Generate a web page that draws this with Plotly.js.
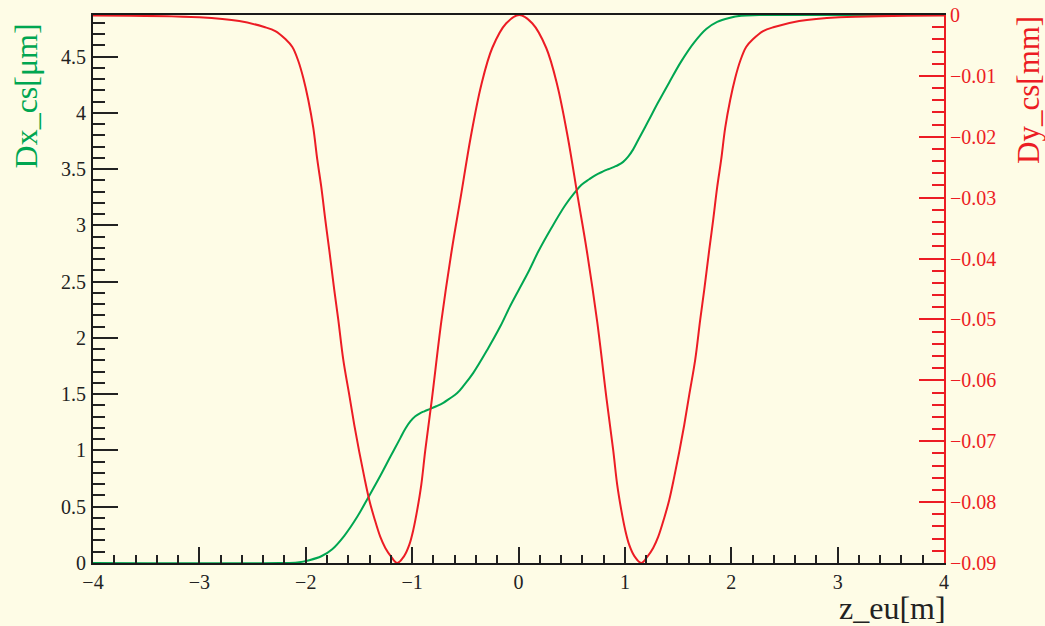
<!DOCTYPE html>
<html>
<head>
<meta charset="utf-8">
<script src="https://cdn.plot.ly/plotly-3.0.1.min.js"></script>
<style>html,body{margin:0;padding:0;background:#fefce6;}#plot{width:1045px;height:626px;}</style>
</head>
<body>
<div id="plot"></div>
<script>
// Dx_cs (green, left axis, µm)
var dxZ = [-4.0, -2.249, -2.079, -1.967, -1.854, -1.751, -1.638, -1.516, -1.403, -1.299, -1.205, -1.111, -1.064, -1.017, -0.970, -0.923, -0.886, -0.829, -0.773, -0.707, -0.651, -0.576, -0.510, -0.425, -0.294, -0.172, -0.087, 0.007,
           0.101, 0.186, 0.308, 0.439, 0.524, 0.590, 0.665, 0.721, 0.787, 0.843, 0.900, 0.937, 0.984, 1.031, 1.078, 1.125, 1.219, 1.313, 1.417, 1.530, 1.652, 1.765, 1.868, 1.981, 2.093, 2.263, 4.0];
var dxVal = [0, 0, 0.005, 0.025, 0.060, 0.123, 0.242, 0.411, 0.598, 0.775, 0.944, 1.110, 1.193, 1.258, 1.304, 1.332, 1.348, 1.370, 1.393, 1.424, 1.459, 1.510, 1.583, 1.690, 1.894, 2.101, 2.267, 2.435,
             2.602, 2.768, 2.975, 3.179, 3.286, 3.359, 3.410, 3.445, 3.476, 3.499, 3.521, 3.537, 3.565, 3.611, 3.676, 3.759, 3.925, 4.094, 4.271, 4.458, 4.627, 4.746, 4.809, 4.844, 4.864, 4.869, 4.869];

// Dy_cs (red, right axis, mm)
var dyZ = [-4.0, -3.001, -2.625, -2.390, -2.286, -2.192, -2.126, -2.070, -2.023, -1.976, -1.929, -1.891, -1.854, -1.816, -1.779, -1.732, -1.694, -1.647, -1.591, -1.544, -1.497, -1.450, -1.403, -1.356, -1.299, -1.252, -1.196, -1.140,
           -1.074, -1.027, -0.989, -0.952, -0.914, -0.876, -0.815, -0.726, -0.627, -0.543, -0.449, -0.350, -0.247, -0.115, 0.007,
           0.129, 0.261, 0.364, 0.463, 0.557, 0.641, 0.740, 0.829, 0.890, 0.928, 0.966, 1.003, 1.041, 1.088, 1.154,
           1.210, 1.266, 1.313, 1.370, 1.417, 1.464, 1.511, 1.558, 1.605, 1.661, 1.708, 1.746, 1.793, 1.830, 1.868, 1.905, 1.943, 1.990, 2.037, 2.084, 2.140, 2.206, 2.300, 2.404, 2.639, 3.015, 4.0];
var dyVal = [-0.00008, -0.00038, -0.00099, -0.00197, -0.00263, -0.00394, -0.00525, -0.00755, -0.01034, -0.01396, -0.01855, -0.02381, -0.02824, -0.03366, -0.03859, -0.04516, -0.05008, -0.05665, -0.06240, -0.06733, -0.07176, -0.07586, -0.07964, -0.08260, -0.08572, -0.08753, -0.08900, -0.09000,
             -0.08883, -0.08703, -0.08456, -0.08128, -0.07717, -0.07143, -0.06322, -0.05041, -0.03859, -0.02988, -0.02003, -0.01149, -0.00542, -0.00136, 0.0,
             -0.00136, -0.00542, -0.01149, -0.02003, -0.02988, -0.03859, -0.05041, -0.06322, -0.07143, -0.07717, -0.08128, -0.08456, -0.08703, -0.08883, -0.09000,
             -0.08900, -0.08753, -0.08572, -0.08260, -0.07964, -0.07586, -0.07176, -0.06733, -0.06240, -0.05665, -0.05008, -0.04516, -0.03859, -0.03366, -0.02824, -0.02381, -0.01855, -0.01396, -0.01034, -0.00755, -0.00525, -0.00394, -0.00263, -0.00197, -0.00099, -0.00038, -0.00008];

var GREEN = '#00a651';
var RED = '#ec1c24';
var BG = '#fefce6';
var FONT = 'Liberation Serif, Times New Roman, serif';

var traces = [
  {x: dxZ, y: dxVal, type: 'scatter', mode: 'lines', yaxis: 'y',
   line: {color: GREEN, width: 2, shape: 'spline', smoothing: 1}, hoverinfo: 'skip'},
  {x: dyZ, y: dyVal, type: 'scatter', mode: 'lines', yaxis: 'y2',
   line: {color: RED, width: 2, shape: 'spline', smoothing: 1}, hoverinfo: 'skip'}
];

var layout = {
  width: 1045, height: 626,
  paper_bgcolor: BG, plot_bgcolor: BG,
  showlegend: false,
  margin: {l: 93, r: 101, t: 15, b: 63, pad: 0},
  font: {family: FONT, size: 20, color: '#222'},
  xaxis: {
    range: [-4, 4], dtick: 1, tick0: 0,
    showgrid: false, zeroline: false,
    showline: true, linecolor: '#1a1a1a', linewidth: 2, mirror: true,
    ticks: 'inside', ticklen: 16, tickwidth: 2, tickcolor: '#222',
    minor: {dtick: 0.2, ticks: 'inside', ticklen: 8, tickwidth: 2, tickcolor: '#222', showgrid: false},
    tickfont: {family: FONT, size: 20, color: '#222'},
    ticklabelstandoff: 0
  },
  yaxis: {
    range: [0, 4.87], dtick: 0.5, tick0: 0,
    showgrid: false, zeroline: false,
    showline: true, linecolor: '#1a1a1a', linewidth: 2, mirror: false,
    ticks: 'inside', ticklen: 25, tickwidth: 2, tickcolor: '#222',
    minor: {dtick: 0.1, ticks: 'inside', ticklen: 12, tickwidth: 2, tickcolor: '#222', showgrid: false},
    tickfont: {family: FONT, size: 20, color: '#222'},
    ticklabelstandoff: 1
  },
  yaxis2: {
    overlaying: 'y', side: 'right', anchor: 'x',
    range: [-0.09, 0], dtick: 0.01, tick0: 0,
    showgrid: false, zeroline: false,
    showline: true, linecolor: RED, linewidth: 2,
    ticks: 'inside', ticklen: 25, tickwidth: 2, tickcolor: RED,
    minor: {dtick: 0.002, ticks: 'inside', ticklen: 12, tickwidth: 2, tickcolor: RED, showgrid: false},
    tickfont: {family: FONT, size: 20, color: RED},
    ticklabelstandoff: 0
  },
  annotations: [
    {text: 'Dx_cs[μm]', xref: 'paper', yref: 'paper', x: -0.0783, y: 0.852,
     xanchor: 'center', yanchor: 'middle', textangle: -90, showarrow: false,
     font: {family: FONT, size: 32, color: GREEN}},
    {text: 'Dy_cs[mm]', xref: 'paper', yref: 'paper', x: 1.0985, y: 0.863,
     xanchor: 'center', yanchor: 'middle', textangle: -90, showarrow: false,
     font: {family: FONT, size: 31, color: RED}},
    {text: 'z_eu[m]', xref: 'paper', yref: 'paper', x: 1.005, y: -0.0815,
     xanchor: 'right', yanchor: 'middle', showarrow: false,
     font: {family: FONT, size: 32, color: '#222'}}
  ]
};

Plotly.newPlot('plot', traces, layout, {displayModeBar: false, staticPlot: true});
</script>
</body>
</html>
